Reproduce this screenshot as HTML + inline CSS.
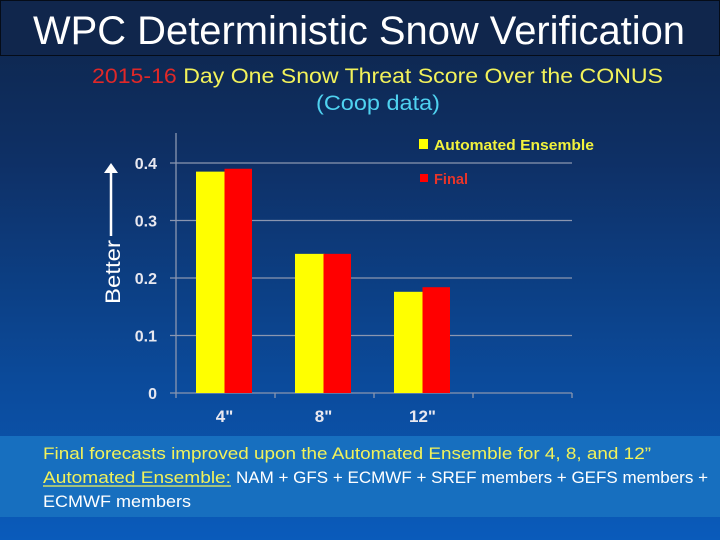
<!DOCTYPE html>
<html><head><meta charset="utf-8"><style>
html,body{margin:0;padding:0;width:720px;height:540px;overflow:hidden}
svg{display:block}
</style></head><body>
<svg width="720" height="540" xmlns="http://www.w3.org/2000/svg">
<defs>
<linearGradient id="bg" x1="0" y1="0" x2="0" y2="1">
<stop offset="0" stop-color="#0f2549"/><stop offset="0.3" stop-color="#0e3066"/><stop offset="0.7" stop-color="#0b4a9a"/><stop offset="1" stop-color="#0a5bbb"/>
</linearGradient>
</defs>
<rect width="720" height="540" fill="url(#bg)"/>
<rect x="0.5" y="0.5" width="719" height="55" fill="#10264c" stroke="#050c18"/>
<text x="33" y="44" font-family="Liberation Sans, sans-serif" font-size="40" fill="#fff" textLength="652" lengthAdjust="spacingAndGlyphs">WPC Deterministic Snow Verification</text>
<text x="92" y="83" font-family="Liberation Sans, sans-serif" font-size="21" textLength="571" lengthAdjust="spacingAndGlyphs"><tspan fill="#e02828">2015-16</tspan><tspan fill="#f2f25a"> Day One Snow Threat Score Over the CONUS</tspan></text>
<text x="378" y="110" text-anchor="middle" font-family="Liberation Sans, sans-serif" font-size="21" fill="#4fd2f0" textLength="124" lengthAdjust="spacingAndGlyphs">(Coop data)</text>
<g>
<line x1="111" y1="236" x2="111" y2="172" stroke="#fff" stroke-width="2.5"/>
<polygon points="104,173 118,173 111,163" fill="#fff"/>
<text transform="translate(120,272) rotate(-90)" text-anchor="middle" font-family="Liberation Sans, sans-serif" font-size="21" fill="#fff" textLength="64" lengthAdjust="spacingAndGlyphs">Better</text>
</g>
<g id="chart"></g>
<rect x="0" y="436" width="720" height="81" fill="#176fbf"/>
<g font-family="Liberation Sans, sans-serif" font-size="17">
<text x="43" y="459" fill="#f2f25a" textLength="608" lengthAdjust="spacingAndGlyphs">Final forecasts improved upon the Automated Ensemble for 4, 8, and 12”</text>
<text x="43" y="483" fill="#f2f25a" textLength="188" lengthAdjust="spacingAndGlyphs">Automated Ensemble:</text>
<line x1="43" y1="486" x2="231" y2="486" stroke="#f2f25a" stroke-width="1.2"/>
<text x="236" y="483" fill="#fff" textLength="472" lengthAdjust="spacingAndGlyphs">NAM + GFS + ECMWF + SREF members + GEFS members +</text>
<text x="43" y="507" fill="#fff" textLength="148" lengthAdjust="spacingAndGlyphs">ECMWF members</text>
</g>
</svg>
<script>
const categories = ['4"', '8"', '12"', ''];
const autoValues = [0.385, 0.242, 0.176];
const finalValues = [0.390, 0.242, 0.184];
const yTicks = [0, 0.1, 0.2, 0.3, 0.4];
const yTickLabels = ['0', '0.1', '0.2', '0.3', '0.4'];

const NS = 'http://www.w3.org/2000/svg';
const g = document.getElementById('chart');
const x0 = 176, x1 = 572, y0 = 393, yTop = 133;
const slot = (x1 - x0) / categories.length;
function yScale(v){ return y0 - v / 0.4 * 230; }
function xSlot(i){ return x0 + i * slot; }
function mk(tag, attrs){ const e = document.createElementNS(NS, tag); for (const k in attrs) e.setAttribute(k, attrs[k]); g.appendChild(e); return e; }

yTicks.forEach((t, i) => {
  const y = yScale(t);
  if (t > 0) {
    const l = mk('line', {x1: x0 - 6, y1: y, x2: x1, y2: y, stroke: '#8a96b0', 'stroke-width': 1.3});
    
    
  }
  const tx = mk('text', {x: 157, y: y + 6, 'text-anchor': 'end', 'font-family': 'Liberation Sans, sans-serif', 'font-size': 16, 'font-weight': 'bold', fill: '#e8e8f0'});
  tx.textContent = yTickLabels[i];
  
  
});
const ya = mk('line', {x1: x0, y1: yTop, x2: x0, y2: y0, stroke: '#8a96b0', 'stroke-width': 1.3});


const xa = mk('line', {x1: x0 - 6, y1: y0, x2: x1, y2: y0, stroke: '#8a96b0', 'stroke-width': 1.3});


for (let i = 0; i <= categories.length; i++) {
  const tk = mk('line', {x1: xSlot(i), y1: y0, x2: xSlot(i), y2: y0 + 5, stroke: '#8a96b0', 'stroke-width': 1.3});
  
  
}
const bw = 28.5, off = 20;
categories.forEach((c, i) => {
  if (i < autoValues.length) {
    const bx = xSlot(i) + off;
    const a = mk('rect', {x: bx, y: yScale(autoValues[i]), width: bw + 1, height: y0 - yScale(autoValues[i]), fill: '#ffff00'});
    
    
    const f = mk('rect', {x: bx + bw, y: yScale(finalValues[i]), width: bw - 1, height: y0 - yScale(finalValues[i]), fill: '#ff0000'});
    
    
  }
  if (c) {
    const t = mk('text', {x: xSlot(i) + off + bw, y: 422, 'text-anchor': 'middle', 'font-family': 'Liberation Sans, sans-serif', 'font-size': 17, 'font-weight': 'bold', fill: '#e8e8f0'});
    t.textContent = c;
    
    
  }
});
// legend
const l1 = mk('rect', {x: 419, y: 139, width: 9, height: 10, fill: '#ffff00'});


const lt1 = mk('text', {x: 434, y: 150, 'font-family': 'Liberation Sans, sans-serif', 'font-size': 15, 'font-weight': 'bold', fill: '#f2f23c', textLength: 160, lengthAdjust: 'spacingAndGlyphs'});
lt1.textContent = 'Automated Ensemble';


const l2 = mk('rect', {x: 420, y: 174, width: 8, height: 8, fill: '#ff0000'});


const lt2 = mk('text', {x: 434, y: 184, 'font-family': 'Liberation Sans, sans-serif', 'font-size': 15, 'font-weight': 'bold', fill: '#e8352a', textLength: 34, lengthAdjust: 'spacingAndGlyphs'});
lt2.textContent = 'Final';


</script>
</body></html>
